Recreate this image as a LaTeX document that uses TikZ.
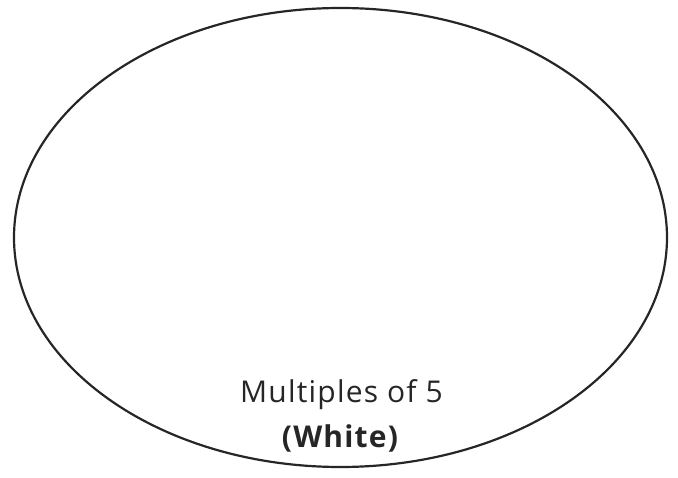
\documentclass[tikz,border=0pt]{standalone}
\usepackage{fontspec}
\usetikzlibrary{shapes.geometric}
\setmainfont{Open Sans}[LetterSpace=4]
\begin{document}
\begin{tikzpicture}[x=1pt,y=-1pt,
  ring/.style={draw=black!85,line width=2.2pt},
  lbl/.style={text=black!85,font=\fontsize{30}{32}\selectfont,inner sep=0pt,anchor=base}]
\useasboundingbox (0,0) rectangle (678,478);
\node[ring,ellipse,minimum width=653pt,minimum height=459pt,inner sep=0pt] (e) at (340.5,237.5) {};
\node[lbl] (t1) at (341.5,403) {Multiples of 5};
\node[lbl,font=\fontsize{30}{32}\selectfont\bfseries] (t2) at (340,447) {(White)};
\end{tikzpicture}
\end{document}
